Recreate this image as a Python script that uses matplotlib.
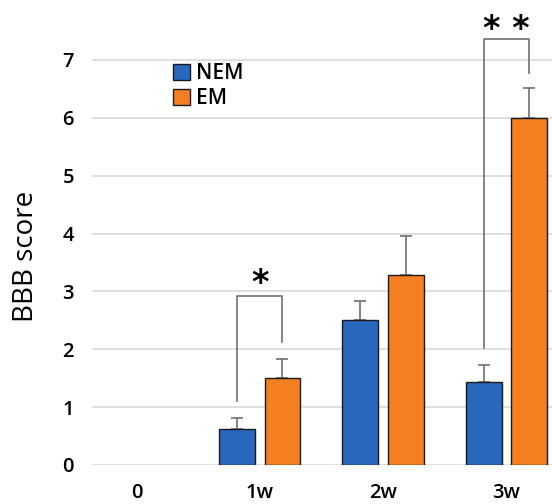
import matplotlib
matplotlib.use("Agg")
import matplotlib.pyplot as plt
from matplotlib.patches import Patch
import numpy as np

categories = ["0", "1w", "2w", "3w"]
nem = [0, 0.62, 2.5, 1.43]
em = [0, 1.5, 3.28, 6.0]
nem_err = [0, 0.19, 0.34, 0.29]
em_err = [0, 0.34, 0.68, 0.52]
series_names = ["NEM", "EM"]
yticks = [0, 1, 2, 3, 4, 5, 6, 7]

plt.rcParams['font.family'] = ['Open Sans', 'DejaVu Sans']

fig = plt.figure(figsize=(5.52, 5.04), dpi=100)
ax = fig.add_axes([92/552, 39/504, 1 - 92/552, (7.2*57.86)/504])

x = np.arange(len(categories))
w = 0.29
off = 0.184
blue = "#2767BE"
orange = "#F47F20"
edge = "#1a1a1a"
ax.bar(x - off, nem, w, color=blue, edgecolor=[edge if v > 0 else "none" for v in nem],
       linewidth=1.0, zorder=3)
ax.bar(x + off, em, w, color=orange, edgecolor=[edge if v > 0 else "none" for v in em],
       linewidth=1.0, zorder=3)
for xs, vals, errs in [(x - off, nem, nem_err), (x + off, em, em_err)]:
    for xi, v, e in zip(xs, vals, errs):
        if e > 0:
            ax.errorbar(xi, v, yerr=[[0], [e]], fmt="none", ecolor="#707070", elinewidth=1.2,
                        capsize=4, capthick=1.2, zorder=2)

ax.set_xlim(-0.36, 3.37)
ax.set_ylim(0, 7.2)
ax.set_yticks(yticks)
ax.set_xticks(x)
ax.set_xticklabels(categories)
ax.grid(axis="y", color="#d9d9d9", linewidth=1.2, zorder=0)
ax.set_axisbelow(True)
for s in ax.spines.values():
    s.set_visible(False)
ax.tick_params(axis="both", length=0, labelsize=14.5)
ax.tick_params(axis="y", pad=13)
ax.tick_params(axis="x", pad=13)
for lab in ax.get_xticklabels() + ax.get_yticklabels():
    lab.set_fontweight("semibold")
ax.set_ylabel("BBB score", fontsize=20, labelpad=16)

# significance brackets
bc = "#707070"
def bracket(xl, xr, yl, yr, ytop, text, ty):
    ax.plot([xl, xl, xr, xr], [yl, ytop, ytop, yr], color=bc, linewidth=1.2, clip_on=False, zorder=4)
    ax.text((xl + xr) / 2, ty, text, ha="center", va="center", fontsize=24, fontweight="bold",
            clip_on=False, family="DejaVu Sans")

bracket(1 - off, 1 + off, 1.11, 2.13, 2.92, "*", 3.13)
bracket(3 - off, 3 + off, 2.03, 6.77, 7.37, "* *", 7.52)

handles = [Patch(facecolor=blue, edgecolor=edge, linewidth=1.0),
           Patch(facecolor=orange, edgecolor=edge, linewidth=1.0)]
leg = ax.legend(handles, series_names, loc="upper left", bbox_to_anchor=(0.158, 0.985), frameon=False,
                prop={"size": 15, "weight": "semibold"},
                handlelength=0.8, handleheight=0.8, handletextpad=0.3, labelspacing=0.2, borderaxespad=0)

fig.savefig("out.png", dpi=100)
